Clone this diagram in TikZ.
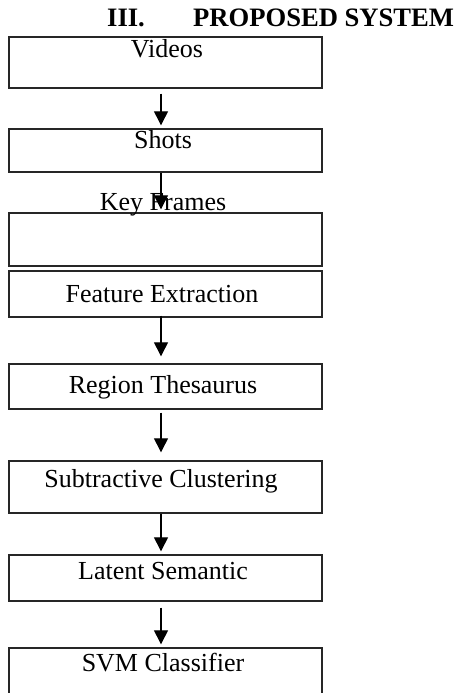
\documentclass[tikz,border=0pt]{standalone}
\usepackage{fontspec}
\setmainfont{Liberation Serif}
\usetikzlibrary{arrows.meta}
\begin{document}
\begin{tikzpicture}[x=1pt,y=-1pt,
  box/.style={draw=black!85, line width=1.4pt, minimum width=313pt, inner sep=0pt, fill=none},
  lbl/.style={anchor=base, inner sep=0pt, font=\fontsize{26}{30}\selectfont},
  ttl/.style={anchor=base west, inner sep=0pt, font=\fontsize{26.6}{30}\selectfont\bfseries},
  arr/.style={line width=1.3pt, -{Triangle[width=14pt,length=14pt]}}]
\useasboundingbox (0,0) rectangle (453,693);
\clip (0,0) rectangle (453,693);
\fill[white] (0,0) rectangle (453,693);
% title
\node[ttl] (t1) at (107,27) {III.};
\node[ttl] (t2) at (193,27) {PROPOSED SYSTEM};
% boxes
\node[box, minimum height=51pt] (v) at (165.5,62.5) {};
\node[box, minimum height=43pt] (s) at (165.5,150.5) {};
\node[box, minimum height=53pt] (k) at (165.5,239.5) {};
\node[box, minimum height=46pt] (f) at (165.5,294) {};
\node[box, minimum height=45pt] (r) at (165.5,386.5) {};
\node[box, minimum height=52pt] (c) at (165.5,487) {};
\node[box, minimum height=46pt] (l) at (165.5,578) {};
\node[box, minimum height=80pt] (m) at (165.5,688) {};
% labels
\node[lbl] (vt) at (167,57) {Videos};
\node[lbl] (st) at (163,148) {Shots};
\node[lbl] (ft) at (162,302) {Feature Extraction};
\node[lbl] (rt) at (163,393) {Region Thesaurus};
\node[lbl] (ct) at (161,487) {Subtractive Clustering};
\node[lbl] (lt) at (163,579) {Latent Semantic};
\node[lbl] (mt) at (163,671) {SVM Classifier};
% arrows
\coordinate (ax) at (161,0);
\draw[arr, shorten <=5pt, shorten >=3pt] (v.south -| ax) -- (s.north -| ax);
\draw[arr, shorten >=3pt] (s.south -| ax) -- (k.north -| ax);
\draw[arr, shorten <=-2pt, shorten >=7pt] (f.south -| ax) -- (r.north -| ax);
\draw[arr, shorten <=3pt, shorten >=8pt] (r.south -| ax) -- (c.north -| ax);
\draw[arr, shorten >=3pt] (c.south -| ax) -- (l.north -| ax);
\draw[arr, shorten <=6pt, shorten >=3pt] (l.south -| ax) -- (m.north -| ax);
% key frames label, overlapping the arrow head as printed
\node[lbl] (kt) at (163,210) {Key Frames};
\end{tikzpicture}
\end{document}
